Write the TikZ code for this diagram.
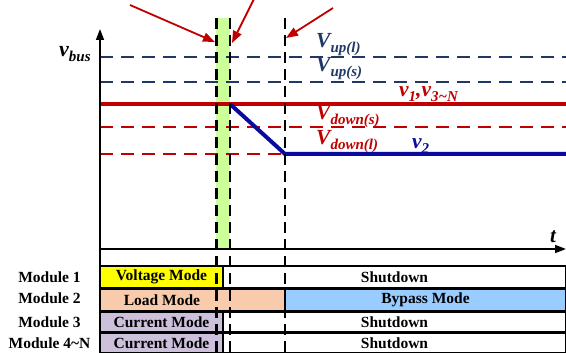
\documentclass[tikz,border=0pt]{standalone}
\usepackage{fontspec}
\setmainfont{Liberation Serif}
\usetikzlibrary{arrows.meta}
\definecolor{navy}{RGB}{31,56,100}
\definecolor{dred}{RGB}{192,0,0}
\definecolor{dblue}{RGB}{10,10,160}
\definecolor{lgreen}{RGB}{204,255,153}
\definecolor{peach}{RGB}{248,203,173}
\definecolor{lav}{RGB}{204,192,218}
\definecolor{sky}{RGB}{153,204,255}
\definecolor{yel}{RGB}{255,255,0}
\newcommand\biglab[2]{\fontsize{21.5}{21.5}\selectfont\bfseries\itshape #1\raisebox{-0.22em}{\fontsize{15}{15}\selectfont #2}}
\begin{document}
\begin{tikzpicture}[x=1pt,y=-1pt,
  refdash/.style={line width=2pt, dash pattern=on 13pt off 8pt},
  vdash/.style={black, line width=2.2pt, dash pattern=on 11pt off 6pt},
  modebox/.style={draw=black, line width=1.2pt, anchor=north west, inner sep=0pt, outer sep=0pt,
    font=\fontsize{15.5}{16}\selectfont\bfseries},
  modlab/.style={font=\fontsize{15.5}{16}\selectfont\bfseries, inner sep=0pt},
  mlab/.style={anchor=base west, inner sep=0pt},
  redarrow/.style={dred, line width=1.8pt, -{Triangle[length=12pt,width=9pt]}},
  axisarrow/.style={black, line width=1.6pt, -{Triangle[length=11pt,width=8pt]}}
]
\useasboundingbox (0,0) rectangle (566,353);
% green band
\fill[lgreen] (216,18) rectangle (230,249);
% reference lines
\draw[refdash, navy] (100,57) -- (566,57);
\draw[refdash, navy] (100,82) -- (566,82);
\draw[refdash, dred] (100,127) -- (566,127);
\draw[refdash, dred] (100,154) -- (566,154);
\draw[dred, line width=4pt] (100,104) -- (566,104);
\coordinate (b0) at (230,104);
\coordinate (b1) at (285,154);
\coordinate (b2) at (566,154);
\draw[dblue, line width=4pt, line join=miter] (b0) -- (b1) -- (b2);
% axes
\coordinate (o) at (100,353);
\coordinate (ytop) at (100,29);
\coordinate (xo) at (100,249);
\coordinate (xend) at (566,249);
\draw[axisarrow] (o) -- (ytop);
\draw[axisarrow] (xo) -- (xend);
\coordinate (tl) at (100,266);
\coordinate (tr) at (566,266);
\draw[black, line width=1.6pt] (tl) -- (tr);
% table
\node[modebox, fill=yel, minimum width=123pt, minimum height=22pt] (m1a) at (100,266) {Voltage Mode};
\node[modebox, fill=white, minimum width=343pt, minimum height=22pt] (m1b) at (223,266) {Shutdown};
\node[modebox, fill=peach, minimum width=185pt, minimum height=22pt] (m2a) at (100,289) {};
\node[modlab] (m2t) at (162,300) {Load Mode};
\node[modebox, fill=sky, minimum width=281pt, minimum height=22pt] (m2b) at (285,289) {Bypass Mode};
\node[modebox, fill=lav, minimum width=123pt, minimum height=20pt] (m3a) at (100,312) {Current Mode};
\node[modebox, fill=white, minimum width=343pt, minimum height=20pt] (m3b) at (223,312) {Shutdown};
\node[modebox, fill=lav, minimum width=123pt, minimum height=20pt] (m4a) at (100,333) {Current Mode};
\node[modebox, fill=white, minimum width=343pt, minimum height=20pt] (m4b) at (223,333) {Shutdown};
\node[modlab] (l1) at (49.5,277) {Module 1};
\node[modlab] (l2) at (49.5,298) {Module 2};
\node[modlab] (l3) at (49.5,322) {Module 3};
\node[modlab] (l4) at (49.5,343) {Module 4\textasciitilde N};
% vertical dashed lines
\coordinate (d1t) at (216.5,18); \coordinate (d1b) at (216.5,353);
\coordinate (d2t) at (230,18); \coordinate (d2b) at (230,353);
\coordinate (d3t) at (285,18); \coordinate (d3b) at (285,353);
\draw[vdash] (d1t) -- (d1b);
\draw[vdash] (d2t) -- (d2b);
\draw[vdash] (d3t) -- (d3b);
% arrows
\coordinate (a1s) at (130,5); \coordinate (a1e) at (215,42);
\coordinate (a2s) at (254,-1); \coordinate (a2e) at (232,43);
\coordinate (a3s) at (333,8); \coordinate (a3e) at (286,38);
\draw[redarrow] (a1s) -- (a1e);
\draw[redarrow] (a2s) -- (a2e);
\draw[redarrow] (a3s) -- (a3e);
% labels
\node[mlab] (vbus) at (59,57) {\fontsize{22}{22}\selectfont\bfseries\itshape v\raisebox{-0.2em}{\fontsize{15}{15}\selectfont bus}};
\node[mlab] (tlab) at (550,243) {\fontsize{21}{21}\selectfont\bfseries\itshape t};
\node[mlab, text=navy] (vupl) at (316,48) {\biglab{V}{up(l)}};
\node[mlab, text=navy] (vups) at (316,72) {\biglab{V}{up(s)}};
\node[mlab, text=dred] (vdns) at (316,120) {\biglab{V}{down(s)}};
\node[mlab, text=dred] (vdnl) at (316,145) {\biglab{V}{down(l)}};
\node[mlab, text=dred] (v13) at (399,97) {\biglab{v}{1},\biglab{v}{3\textasciitilde N}};
\node[mlab, text=dblue] (v2) at (412,149) {\biglab{v}{2}};
\end{tikzpicture}
\end{document}
